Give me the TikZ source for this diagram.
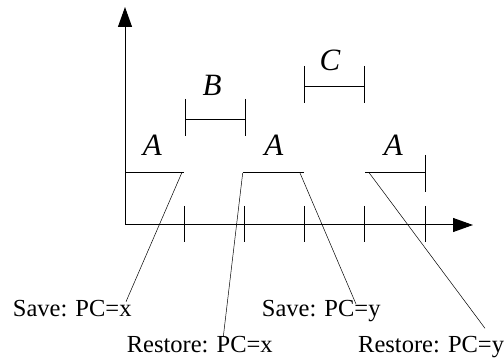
\documentclass[tikz,border=0pt]{standalone}
\usepackage{fontspec}
\setmainfont{Liberation Serif}
\usetikzlibrary{arrows.meta}
\begin{document}
\begin{tikzpicture}[x=1pt,y=-1pt,
  axis/.style={line width=1pt, -{Triangle[length=20pt,width=14pt]}},
  seg/.style={line width=1pt},
  lead/.style={line width=0.5pt},
  lbl/.style={font=\fontsize{31}{31}\selectfont\itshape, inner sep=0pt},
  note/.style={font=\fontsize{24.5}{24.5}\selectfont, inner sep=0pt, anchor=base west}]
\useasboundingbox (0,0) rectangle (504,363);
% axes
\coordinate (O) at (125,225);
\coordinate (ytop) at (125,7);
\coordinate (xend) at (473,225);
\draw[axis] (O) -- (ytop);
\draw[axis] (O) -- (xend);
% ticks on x axis
\foreach \x in {184.5,244.5,304.5,364.5,425} \draw[seg] (\x,206) -- (\x,242);
% A segments
\coordinate (a1s) at (125,173); \coordinate (a1e) at (184,173);
\coordinate (a2s) at (243,173); \coordinate (a2e) at (304,173);
\coordinate (a3s) at (365,173); \coordinate (a3e) at (425,173);
\draw[seg] (a1s) -- (a1e);
\draw[seg] (a2s) -- (a2e);
\draw[seg] (a3s) -- (a3e);
\draw[seg] (425,155) -- (425,192);
% B segment
\draw[seg] (185,120) -- (245,120);
\draw[seg] (185,99) -- (185,136);
\draw[seg] (245,99) -- (245,136);
% C segment
\draw[seg] (304.3,86.5) -- (364,86.5);
\draw[seg] (304.3,66) -- (304.3,103);
\draw[seg] (364,66) -- (364,103);
% labels
\node[lbl] (lA1) at (152.3,145) {A};
\node[lbl] (lA2) at (273.8,145) {A};
\node[lbl] (lA3) at (393.3,145) {A};
\node[lbl] (lB) at (212,85.5) {B};
\node[lbl] (lC) at (330,60) {C};
% notes
\node[note] (save1) at (12.7,316.7) {Save: PC=x};
\node[note] (rest1) at (126.7,353) {Restore: PC=x};
\node[note] (save2) at (261.7,316.7) {Save: PC=y};
\node[note] (rest2) at (358,353) {Restore: PC=y};
% leader lines
\coordinate (k1s) at (181.7,173); \coordinate (k1e) at (126,301.7);
\coordinate (k2s) at (242.7,173); \coordinate (k2e) at (223.3,336.7);
\coordinate (k3s) at (300,173);   \coordinate (k3e) at (356,304);
\coordinate (k4s) at (369.3,173); \coordinate (k4e) at (485,328.3);
\draw[lead] (k1s) -- (k1e);
\draw[lead] (k2s) -- (k2e);
\draw[lead] (k3s) -- (k3e);
\draw[lead] (k4s) -- (k4e);
\end{tikzpicture}
\end{document}
